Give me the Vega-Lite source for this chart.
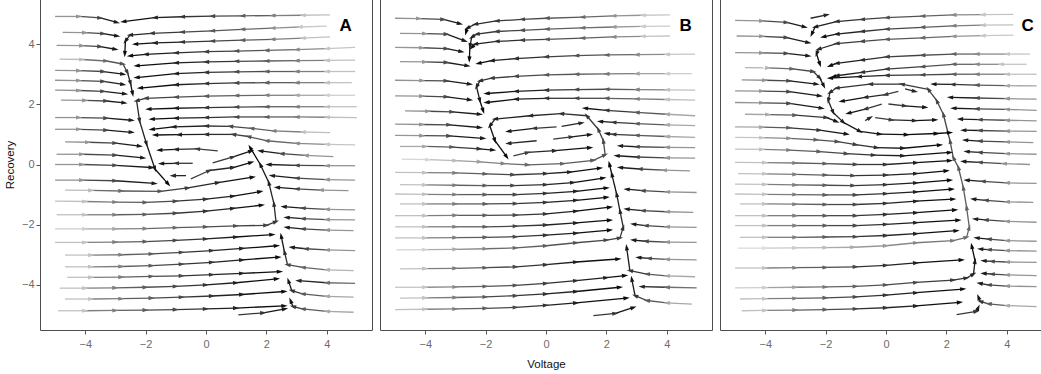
{
"$schema":"https://vega.github.io/schema/vega-lite/v6.json",
"padding":{"left":3,"top":-2,"right":0,"bottom":0},
"spacing":6,
"config":{"view":{"stroke":"#4d4d4d","strokeWidth":1},"font":"Liberation Sans","axis":{"domain":false,"grid":false,"tickColor":"#555555","tickSize":4,"labelColor":"#6b6b6b","labelFontSize":11,"titleFontSize":11.5,"titleFontWeight":"normal","titleColor":"#111111"}},
"datasets":{
"A":[
{"l":1,"x":-5,"y":4.92},{"l":1,"x":-4.2,"y":4.92},{"l":1,"x":-3.5,"y":4.87},{"l":1,"x":-2.95,"y":4.72},
{"l":2,"x":-4.75,"y":4.39},{"l":2,"x":-4,"y":4.38},{"l":2,"x":-3.4,"y":4.35},{"l":2,"x":-2.94,"y":4.27},
{"l":3,"x":-4.95,"y":3.96},{"l":3,"x":-4.1,"y":3.95},{"l":3,"x":-3.5,"y":3.92},{"l":3,"x":-3,"y":3.83},
{"l":4,"x":-4.85,"y":3.5},{"l":4,"x":-4.1,"y":3.49},{"l":4,"x":-3.3,"y":3.44},{"l":4,"x":-2.75,"y":3.34},{"l":4,"x":-2.6,"y":3.05},{"l":4,"x":-2.5,"y":2.7},{"l":4,"x":-2.43,"y":2.35},
{"l":5,"x":-5,"y":3.13},{"l":5,"x":-4.2,"y":3.12},{"l":5,"x":-3.4,"y":3.09},{"l":5,"x":-2.74,"y":3},
{"l":6,"x":-5,"y":2.8},{"l":6,"x":-4.2,"y":2.79},{"l":6,"x":-3.4,"y":2.76},{"l":6,"x":-2.74,"y":2.66},
{"l":7,"x":-5,"y":2.47},{"l":7,"x":-4.2,"y":2.46},{"l":7,"x":-3.4,"y":2.43},{"l":7,"x":-2.68,"y":2.35},
{"l":8,"x":-4.8,"y":2.14},{"l":8,"x":-4,"y":2.13},{"l":8,"x":-3.3,"y":2.11},{"l":8,"x":-2.7,"y":2.05},
{"l":9,"x":-5,"y":1.56},{"l":9,"x":-4.2,"y":1.56},{"l":9,"x":-3.3,"y":1.54},{"l":9,"x":-2.46,"y":1.47},
{"l":10,"x":-5,"y":1.17},{"l":10,"x":-4.2,"y":1.17},{"l":10,"x":-3.3,"y":1.14},{"l":10,"x":-2.46,"y":1.07},
{"l":11,"x":-4.67,"y":0.75},{"l":11,"x":-3.9,"y":0.74},{"l":11,"x":-3,"y":0.71},{"l":11,"x":-2.19,"y":0.61},
{"l":12,"x":-4.95,"y":0.34},{"l":12,"x":-4.1,"y":0.34},{"l":12,"x":-3,"y":0.31},{"l":12,"x":-2.08,"y":0.22},
{"l":13,"x":-5,"y":0},{"l":13,"x":-4.1,"y":0},{"l":13,"x":-3,"y":-0.03},{"l":13,"x":-1.8,"y":-0.1},
{"l":14,"x":-5,"y":-0.52},{"l":14,"x":-4.1,"y":-0.52},{"l":14,"x":-3,"y":-0.54},{"l":14,"x":-1.7,"y":-0.63},
{"l":15,"x":-4.67,"y":-0.85},{"l":15,"x":-3.8,"y":-0.86},{"l":15,"x":-2.8,"y":-0.88},{"l":15,"x":-1.5,"y":-0.89},{"l":15,"x":-0.6,"y":-0.78},{"l":15,"x":0.4,"y":-0.6},{"l":15,"x":1.55,"y":-0.42},
{"l":16,"x":-5,"y":-1.22},{"l":16,"x":-4,"y":-1.23},{"l":16,"x":-3,"y":-1.25},{"l":16,"x":-2,"y":-1.26},{"l":16,"x":-1,"y":-1.22},{"l":16,"x":0,"y":-1.15},{"l":16,"x":0.9,"y":-1.05},{"l":16,"x":1.8,"y":-0.9},
{"l":17,"x":-4.95,"y":-1.67},{"l":17,"x":-4,"y":-1.67},{"l":17,"x":-3,"y":-1.67},{"l":17,"x":-2,"y":-1.66},{"l":17,"x":-1,"y":-1.62},{"l":17,"x":0,"y":-1.55},{"l":17,"x":0.9,"y":-1.46},{"l":17,"x":1.85,"y":-1.35},
{"l":18,"x":-5,"y":-2.14},{"l":18,"x":-4,"y":-2.14},{"l":18,"x":-3,"y":-2.14},{"l":18,"x":-2,"y":-2.13},{"l":18,"x":-1,"y":-2.1},{"l":18,"x":0,"y":-2.07},{"l":18,"x":1,"y":-2.04},{"l":18,"x":2,"y":-2.02},{"l":18,"x":2.32,"y":-1.9},{"l":18,"x":2.25,"y":-1.3},{"l":18,"x":2.08,"y":-0.6},{"l":18,"x":1.8,"y":0},{"l":18,"x":1.46,"y":0.57},
{"l":19,"x":-5,"y":-2.59},{"l":19,"x":-4,"y":-2.59},{"l":19,"x":-3,"y":-2.58},{"l":19,"x":-2,"y":-2.56},{"l":19,"x":-1,"y":-2.52},{"l":19,"x":0,"y":-2.47},{"l":19,"x":1,"y":-2.41},{"l":19,"x":2.2,"y":-2.33},
{"l":20,"x":-4.67,"y":-3.01},{"l":20,"x":-3.8,"y":-3.01},{"l":20,"x":-2.8,"y":-3},{"l":20,"x":-1.8,"y":-2.97},{"l":20,"x":-0.8,"y":-2.92},{"l":20,"x":0.2,"y":-2.86},{"l":20,"x":1.2,"y":-2.79},{"l":20,"x":2.35,"y":-2.7},
{"l":21,"x":-4.67,"y":-3.4},{"l":21,"x":-3.8,"y":-3.4},{"l":21,"x":-2.8,"y":-3.39},{"l":21,"x":-1.8,"y":-3.36},{"l":21,"x":-0.8,"y":-3.31},{"l":21,"x":0.2,"y":-3.25},{"l":21,"x":1.2,"y":-3.17},{"l":21,"x":2.4,"y":-3.08},
{"l":22,"x":-4.6,"y":-3.75},{"l":22,"x":-3.8,"y":-3.75},{"l":22,"x":-2.8,"y":-3.74},{"l":22,"x":-1.8,"y":-3.72},{"l":22,"x":-0.8,"y":-3.7},{"l":22,"x":0.2,"y":-3.66},{"l":22,"x":1.2,"y":-3.62},{"l":22,"x":2.45,"y":-3.56},
{"l":23,"x":-4.85,"y":-4.11},{"l":23,"x":-4,"y":-4.11},{"l":23,"x":-3,"y":-4.1},{"l":23,"x":-2,"y":-4.08},{"l":23,"x":-1,"y":-4.05},{"l":23,"x":0,"y":-4},{"l":23,"x":1,"y":-3.93},{"l":23,"x":2.35,"y":-3.8},
{"l":24,"x":-4.67,"y":-4.47},{"l":24,"x":-3.8,"y":-4.47},{"l":24,"x":-2.8,"y":-4.46},{"l":24,"x":-1.8,"y":-4.44},{"l":24,"x":-0.8,"y":-4.41},{"l":24,"x":0.2,"y":-4.37},{"l":24,"x":1.2,"y":-4.32},{"l":24,"x":2.6,"y":-4.22},
{"l":25,"x":-4.9,"y":-4.86},{"l":25,"x":-4,"y":-4.86},{"l":25,"x":-3,"y":-4.85},{"l":25,"x":-2,"y":-4.84},{"l":25,"x":-1,"y":-4.82},{"l":25,"x":0,"y":-4.8},{"l":25,"x":1,"y":-4.77},{"l":25,"x":2.6,"y":-4.7},
{"l":26,"x":1.07,"y":-5},{"l":26,"x":1.9,"y":-4.93},{"l":26,"x":2.62,"y":-4.8},
{"l":27,"x":0.39,"y":0.45},{"l":27,"x":-0.3,"y":0.52},{"l":27,"x":-1,"y":0.5},{"l":27,"x":-1.55,"y":0.48},
{"l":28,"x":-0.44,"y":0.04},{"l":28,"x":-1,"y":0.04},{"l":28,"x":-1.49,"y":0.03},
{"l":29,"x":-0.66,"y":-0.37},{"l":29,"x":-1.1,"y":-0.37},
{"l":30,"x":-0.5,"y":-0.48},{"l":30,"x":0.11,"y":-0.2},{"l":30,"x":0.9,"y":-0.1},{"l":30,"x":1.5,"y":0.07},
{"l":31,"x":0.22,"y":0.05},{"l":31,"x":0.9,"y":0.25},{"l":31,"x":1.5,"y":0.45},
{"l":32,"x":4.11,"y":4.97},{"l":32,"x":3.2,"y":4.96},{"l":32,"x":2.2,"y":4.95},{"l":32,"x":1.2,"y":4.94},{"l":32,"x":0.2,"y":4.93},{"l":32,"x":-0.8,"y":4.91},{"l":32,"x":-1.7,"y":4.88},{"l":32,"x":-2.74,"y":4.75},
{"l":33,"x":4,"y":4.6},{"l":33,"x":3.1,"y":4.57},{"l":33,"x":2.2,"y":4.53},{"l":33,"x":1.2,"y":4.49},{"l":33,"x":0.2,"y":4.44},{"l":33,"x":-0.8,"y":4.4},{"l":33,"x":-1.8,"y":4.36},{"l":33,"x":-2.52,"y":4.3},{"l":33,"x":-2.67,"y":4.1},{"l":33,"x":-2.69,"y":3.67},
{"l":34,"x":4.11,"y":4.24},{"l":34,"x":3.2,"y":4.2},{"l":34,"x":2.2,"y":4.16},{"l":34,"x":1.2,"y":4.13},{"l":34,"x":0.2,"y":4.1},{"l":34,"x":-0.8,"y":4.07},{"l":34,"x":-1.7,"y":4.04},{"l":34,"x":-2.35,"y":4},
{"l":35,"x":4.94,"y":3.89},{"l":35,"x":4,"y":3.85},{"l":35,"x":3,"y":3.82},{"l":35,"x":2,"y":3.79},{"l":35,"x":1,"y":3.77},{"l":35,"x":0,"y":3.75},{"l":35,"x":-1,"y":3.71},{"l":35,"x":-2,"y":3.66},{"l":35,"x":-2.52,"y":3.61},
{"l":36,"x":4.94,"y":3.47},{"l":36,"x":4,"y":3.46},{"l":36,"x":3,"y":3.45},{"l":36,"x":2,"y":3.44},{"l":36,"x":1,"y":3.43},{"l":36,"x":0,"y":3.41},{"l":36,"x":-1,"y":3.38},{"l":36,"x":-2.3,"y":3.28},
{"l":37,"x":4.94,"y":3.09},{"l":37,"x":4,"y":3.09},{"l":37,"x":3,"y":3.09},{"l":37,"x":2,"y":3.09},{"l":37,"x":1,"y":3.08},{"l":37,"x":0,"y":3.06},{"l":37,"x":-1,"y":3.02},{"l":37,"x":-2.3,"y":2.89},
{"l":38,"x":4.83,"y":2.72},{"l":38,"x":4,"y":2.72},{"l":38,"x":3,"y":2.72},{"l":38,"x":2,"y":2.72},{"l":38,"x":1,"y":2.71},{"l":38,"x":0,"y":2.69},{"l":38,"x":-1,"y":2.65},{"l":38,"x":-2.19,"y":2.54},
{"l":39,"x":4.94,"y":2.3},{"l":39,"x":4,"y":2.3},{"l":39,"x":3,"y":2.3},{"l":39,"x":2,"y":2.3},{"l":39,"x":1,"y":2.29},{"l":39,"x":0,"y":2.27},{"l":39,"x":-1,"y":2.24},{"l":39,"x":-2,"y":2.2},{"l":39,"x":-2.3,"y":2.12},{"l":39,"x":-2.2,"y":1.45},{"l":39,"x":-1.97,"y":0.68},{"l":39,"x":-1.69,"y":-0.15},{"l":39,"x":-1.25,"y":-0.65},
{"l":40,"x":5,"y":1.92},{"l":40,"x":4,"y":1.92},{"l":40,"x":3,"y":1.92},{"l":40,"x":2,"y":1.92},{"l":40,"x":1,"y":1.91},{"l":40,"x":0,"y":1.89},{"l":40,"x":-1,"y":1.87},{"l":40,"x":-1.91,"y":1.84},
{"l":41,"x":5,"y":1.56},{"l":41,"x":4,"y":1.57},{"l":41,"x":3,"y":1.58},{"l":41,"x":2,"y":1.58},{"l":41,"x":1,"y":1.58},{"l":41,"x":0,"y":1.56},{"l":41,"x":-1,"y":1.54},{"l":41,"x":-1.8,"y":1.51},
{"l":42,"x":4.11,"y":1.06},{"l":42,"x":3.2,"y":1.08},{"l":42,"x":2.23,"y":1.12},{"l":42,"x":1.5,"y":1.2},{"l":42,"x":0.8,"y":1.27},{"l":42,"x":0,"y":1.28},{"l":42,"x":-1.08,"y":1.25},{"l":42,"x":-1.8,"y":1.17},
{"l":43,"x":4.94,"y":0.65},{"l":43,"x":4,"y":0.67},{"l":43,"x":3,"y":0.7},{"l":43,"x":2,"y":0.79},{"l":43,"x":1.4,"y":0.93},{"l":43,"x":0.9,"y":1},{"l":43,"x":0,"y":1},{"l":43,"x":-0.9,"y":0.99},{"l":43,"x":-1.69,"y":0.98},
{"l":44,"x":4.22,"y":0.26},{"l":44,"x":3.3,"y":0.3},{"l":44,"x":2.5,"y":0.36},{"l":44,"x":1.8,"y":0.45},
{"l":45,"x":4.94,"y":-0.04},{"l":45,"x":4,"y":-0.04},{"l":45,"x":3,"y":-0.03},{"l":45,"x":2.07,"y":0},
{"l":46,"x":4.94,"y":-0.52},{"l":46,"x":4,"y":-0.5},{"l":46,"x":3,"y":-0.45},{"l":46,"x":2.18,"y":-0.37},
{"l":47,"x":4.72,"y":-0.87},{"l":47,"x":3.8,"y":-0.85},{"l":47,"x":3,"y":-0.81},{"l":47,"x":2.35,"y":-0.76},
{"l":48,"x":4.94,"y":-1.51},{"l":48,"x":4,"y":-1.49},{"l":48,"x":3.2,"y":-1.45},{"l":48,"x":2.57,"y":-1.4},
{"l":49,"x":4.94,"y":-1.84},{"l":49,"x":4,"y":-1.83},{"l":49,"x":3.2,"y":-1.8},{"l":49,"x":2.67,"y":-1.76},
{"l":50,"x":4.89,"y":-2.2},{"l":50,"x":4,"y":-2.18},{"l":50,"x":3.2,"y":-2.14},{"l":50,"x":2.67,"y":-2.09},
{"l":51,"x":4.94,"y":-2.86},{"l":51,"x":4,"y":-2.84},{"l":51,"x":3.3,"y":-2.8},{"l":51,"x":2.84,"y":-2.75},
{"l":52,"x":4.89,"y":-3.53},{"l":52,"x":4,"y":-3.5},{"l":52,"x":3.2,"y":-3.42},{"l":52,"x":2.7,"y":-3.33},{"l":52,"x":2.6,"y":-2.9},{"l":52,"x":2.49,"y":-2.37},
{"l":53,"x":4.94,"y":-3.95},{"l":53,"x":4,"y":-3.93},{"l":53,"x":3.06,"y":-3.86},
{"l":54,"x":4.89,"y":-4.41},{"l":54,"x":4,"y":-4.38},{"l":54,"x":3.2,"y":-4.3},{"l":54,"x":2.84,"y":-4.19},{"l":54,"x":2.73,"y":-3.86},
{"l":55,"x":4.89,"y":-4.91},{"l":55,"x":4,"y":-4.88},{"l":55,"x":3.2,"y":-4.8},{"l":55,"x":2.88,"y":-4.72},{"l":55,"x":2.8,"y":-4.52}
],
"B":[
{"l":1,"x":-5,"y":4.86},{"l":1,"x":-4.2,"y":4.85},{"l":1,"x":-3.4,"y":4.82},{"l":1,"x":-2.85,"y":4.68},
{"l":2,"x":-4.84,"y":4.36},{"l":2,"x":-4,"y":4.35},{"l":2,"x":-3.29,"y":4.33},{"l":2,"x":-2.69,"y":4.11},
{"l":3,"x":-5,"y":3.89},{"l":3,"x":-4.1,"y":3.88},{"l":3,"x":-3.29,"y":3.85},{"l":3,"x":-2.8,"y":3.75},
{"l":4,"x":-4.84,"y":3.42},{"l":4,"x":-4,"y":3.41},{"l":4,"x":-3.29,"y":3.39},{"l":4,"x":-2.6,"y":3.28},
{"l":5,"x":-5,"y":2.8},{"l":5,"x":-4.1,"y":2.79},{"l":5,"x":-3.29,"y":2.78},{"l":5,"x":-2.52,"y":2.67},
{"l":6,"x":-5,"y":2.28},{"l":6,"x":-4.1,"y":2.27},{"l":6,"x":-3.29,"y":2.25},{"l":6,"x":-2.52,"y":2.15},
{"l":7,"x":-4.67,"y":1.78},{"l":7,"x":-3.9,"y":1.77},{"l":7,"x":-3.1,"y":1.75},{"l":7,"x":-2.19,"y":1.67},
{"l":8,"x":-5,"y":1.34},{"l":8,"x":-4.1,"y":1.33},{"l":8,"x":-3.2,"y":1.32},{"l":8,"x":-2.19,"y":1.23},
{"l":9,"x":-5,"y":0.97},{"l":9,"x":-4.1,"y":0.96},{"l":9,"x":-3.2,"y":0.95},{"l":9,"x":-2.08,"y":0.87},
{"l":10,"x":-4.84,"y":0.6},{"l":10,"x":-4,"y":0.6},{"l":10,"x":-3.1,"y":0.58},{"l":10,"x":-2.2,"y":0.52},{"l":10,"x":-1.75,"y":0.48},
{"l":11,"x":-4.78,"y":0.18},{"l":11,"x":-3.9,"y":0.16},{"l":11,"x":-3,"y":0.13},{"l":11,"x":-2.19,"y":0.09},{"l":11,"x":-1.4,"y":0.03},{"l":11,"x":-0.6,"y":-0.01},{"l":11,"x":0.57,"y":0.03},{"l":11,"x":1.57,"y":0.14},{"l":11,"x":1.96,"y":0.32},{"l":11,"x":1.9,"y":0.79},{"l":11,"x":1.73,"y":1.17},{"l":11,"x":1.35,"y":1.62},{"l":11,"x":0.5,"y":1.69},{"l":11,"x":-0.53,"y":1.62},{"l":11,"x":-1.69,"y":1.51},{"l":11,"x":-1.86,"y":1.28},{"l":11,"x":-1.69,"y":0.79},{"l":11,"x":-1.3,"y":0.25},
{"l":12,"x":-5,"y":-0.26},{"l":12,"x":-4,"y":-0.27},{"l":12,"x":-3,"y":-0.28},{"l":12,"x":-2,"y":-0.31},{"l":12,"x":-1.08,"y":-0.34},{"l":12,"x":0,"y":-0.3},{"l":12,"x":0.8,"y":-0.25},{"l":12,"x":1.79,"y":-0.12},
{"l":13,"x":-4.84,"y":-0.67},{"l":13,"x":-4,"y":-0.68},{"l":13,"x":-3,"y":-0.69},{"l":13,"x":-2,"y":-0.7},{"l":13,"x":-1.08,"y":-0.7},{"l":13,"x":0,"y":-0.67},{"l":13,"x":0.9,"y":-0.6},{"l":13,"x":1.9,"y":-0.45},
{"l":14,"x":-5,"y":-0.98},{"l":14,"x":-4,"y":-0.99},{"l":14,"x":-3,"y":-1},{"l":14,"x":-2,"y":-1},{"l":14,"x":-1,"y":-1},{"l":14,"x":0,"y":-0.96},{"l":14,"x":1,"y":-0.89},{"l":14,"x":2.01,"y":-0.78},
{"l":15,"x":-4.84,"y":-1.31},{"l":15,"x":-4,"y":-1.31},{"l":15,"x":-3,"y":-1.31},{"l":15,"x":-2,"y":-1.31},{"l":15,"x":-1,"y":-1.3},{"l":15,"x":0,"y":-1.26},{"l":15,"x":1,"y":-1.19},{"l":15,"x":2.01,"y":-1.09},
{"l":16,"x":-5,"y":-1.7},{"l":16,"x":-4,"y":-1.7},{"l":16,"x":-3,"y":-1.69},{"l":16,"x":-2,"y":-1.69},{"l":16,"x":-1,"y":-1.68},{"l":16,"x":0,"y":-1.64},{"l":16,"x":1,"y":-1.55},{"l":16,"x":2.12,"y":-1.42},
{"l":17,"x":-5,"y":-2.07},{"l":17,"x":-4,"y":-2.07},{"l":17,"x":-3,"y":-2.07},{"l":17,"x":-2,"y":-2.07},{"l":17,"x":-1,"y":-2.05},{"l":17,"x":0,"y":-2.01},{"l":17,"x":1,"y":-1.94},{"l":17,"x":2.12,"y":-1.85},
{"l":18,"x":-5,"y":-2.44},{"l":18,"x":-4,"y":-2.44},{"l":18,"x":-3,"y":-2.43},{"l":18,"x":-2,"y":-2.42},{"l":18,"x":-1,"y":-2.4},{"l":18,"x":0,"y":-2.35},{"l":18,"x":1,"y":-2.28},{"l":18,"x":2.12,"y":-2.18},
{"l":19,"x":-4.95,"y":-2.84},{"l":19,"x":-4,"y":-2.83},{"l":19,"x":-3,"y":-2.82},{"l":19,"x":-2,"y":-2.8},{"l":19,"x":-1,"y":-2.77},{"l":19,"x":0,"y":-2.7},{"l":19,"x":1,"y":-2.6},{"l":19,"x":2.01,"y":-2.51},{"l":19,"x":2.45,"y":-2.44},{"l":19,"x":2.56,"y":-2.09},{"l":19,"x":2.45,"y":-1.54},{"l":19,"x":2.34,"y":-0.98},{"l":19,"x":2.18,"y":-0.32},{"l":19,"x":2.1,"y":0.02},
{"l":20,"x":-4.84,"y":-3.47},{"l":20,"x":-4,"y":-3.46},{"l":20,"x":-3,"y":-3.45},{"l":20,"x":-2,"y":-3.43},{"l":20,"x":-1,"y":-3.4},{"l":20,"x":0,"y":-3.33},{"l":20,"x":1,"y":-3.24},{"l":20,"x":2.4,"y":-3.14},
{"l":21,"x":-5,"y":-4.08},{"l":21,"x":-4,"y":-4.08},{"l":21,"x":-3,"y":-4.07},{"l":21,"x":-2,"y":-4.05},{"l":21,"x":-1,"y":-4.02},{"l":21,"x":0,"y":-3.95},{"l":21,"x":1,"y":-3.86},{"l":21,"x":2,"y":-3.76},{"l":21,"x":2.62,"y":-3.69},
{"l":22,"x":-4.84,"y":-4.44},{"l":22,"x":-4,"y":-4.43},{"l":22,"x":-3,"y":-4.42},{"l":22,"x":-2,"y":-4.4},{"l":22,"x":-1,"y":-4.36},{"l":22,"x":0,"y":-4.3},{"l":22,"x":1,"y":-4.22},{"l":22,"x":2.45,"y":-4.08},
{"l":23,"x":-5,"y":-4.82},{"l":23,"x":-4,"y":-4.81},{"l":23,"x":-3,"y":-4.8},{"l":23,"x":-2,"y":-4.78},{"l":23,"x":-1,"y":-4.75},{"l":23,"x":0,"y":-4.68},{"l":23,"x":1,"y":-4.6},{"l":23,"x":2.67,"y":-4.44},
{"l":24,"x":1.57,"y":-5.02},{"l":24,"x":2.3,"y":-4.95},{"l":24,"x":2.9,"y":-4.75},
{"l":25,"x":0.35,"y":1.25},{"l":25,"x":-0.4,"y":1.2},{"l":25,"x":-1.25,"y":1.1},
{"l":26,"x":0.52,"y":1.27},{"l":26,"x":1.18,"y":1.38},
{"l":27,"x":-0.31,"y":0.79},{"l":27,"x":-1.25,"y":0.7},
{"l":28,"x":0.24,"y":0.84},{"l":28,"x":0.85,"y":0.92},{"l":28,"x":1.46,"y":0.99},
{"l":29,"x":-1.08,"y":0.29},{"l":29,"x":-0.6,"y":0.4},{"l":29,"x":0.3,"y":0.46},{"l":29,"x":1.46,"y":0.56},
{"l":30,"x":4.11,"y":4.97},{"l":30,"x":3.2,"y":4.96},{"l":30,"x":2.23,"y":4.94},{"l":30,"x":1.2,"y":4.9},{"l":30,"x":0.02,"y":4.86},{"l":30,"x":-0.8,"y":4.82},{"l":30,"x":-1.64,"y":4.77},{"l":30,"x":-2.35,"y":4.66},{"l":30,"x":-2.61,"y":4.53},{"l":30,"x":-2.65,"y":4.39},
{"l":31,"x":4.11,"y":4.6},{"l":31,"x":3.2,"y":4.59},{"l":31,"x":2.23,"y":4.57},{"l":31,"x":1.2,"y":4.54},{"l":31,"x":0.02,"y":4.5},{"l":31,"x":-0.8,"y":4.46},{"l":31,"x":-1.64,"y":4.42},{"l":31,"x":-2.3,"y":4.33},{"l":31,"x":-2.46,"y":4.23},{"l":31,"x":-2.52,"y":3.93},{"l":31,"x":-2.54,"y":3.49},
{"l":32,"x":4.11,"y":4.27},{"l":32,"x":3.2,"y":4.26},{"l":32,"x":2.23,"y":4.24},{"l":32,"x":1.2,"y":4.2},{"l":32,"x":0.02,"y":4.16},{"l":32,"x":-0.8,"y":4.13},{"l":32,"x":-1.64,"y":4.09},{"l":32,"x":-2.35,"y":4},{"l":32,"x":-2.46,"y":3.89},
{"l":33,"x":4.94,"y":3.67},{"l":33,"x":4,"y":3.66},{"l":33,"x":3,"y":3.65},{"l":33,"x":2,"y":3.64},{"l":33,"x":1,"y":3.62},{"l":33,"x":0,"y":3.58},{"l":33,"x":-1,"y":3.52},{"l":33,"x":-1.8,"y":3.45},{"l":33,"x":-2.24,"y":3.36},
{"l":34,"x":4.83,"y":3.02},{"l":34,"x":4,"y":3.02},{"l":34,"x":3,"y":3.02},{"l":34,"x":2,"y":3.01},{"l":34,"x":1,"y":3},{"l":34,"x":0,"y":2.98},{"l":34,"x":-1,"y":2.93},{"l":34,"x":-1.8,"y":2.87},{"l":34,"x":-2.19,"y":2.78},{"l":34,"x":-2.3,"y":2.58},{"l":34,"x":-2.19,"y":2.12},{"l":34,"x":-2.08,"y":1.78},
{"l":35,"x":4.94,"y":2.47},{"l":35,"x":4,"y":2.48},{"l":35,"x":3,"y":2.49},{"l":35,"x":2,"y":2.5},{"l":35,"x":1,"y":2.49},{"l":35,"x":0,"y":2.47},{"l":35,"x":-1,"y":2.43},{"l":35,"x":-1.97,"y":2.36},
{"l":36,"x":4.94,"y":2.14},{"l":36,"x":4,"y":2.16},{"l":36,"x":3,"y":2.18},{"l":36,"x":2,"y":2.2},{"l":36,"x":1,"y":2.2},{"l":36,"x":0,"y":2.2},{"l":36,"x":-1,"y":2.17},{"l":36,"x":-1.97,"y":2.06},
{"l":37,"x":4.94,"y":1.62},{"l":37,"x":4,"y":1.67},{"l":37,"x":3,"y":1.73},{"l":37,"x":2,"y":1.8},{"l":37,"x":1.29,"y":1.87},
{"l":38,"x":4.94,"y":1.29},{"l":38,"x":4,"y":1.32},{"l":38,"x":3,"y":1.36},{"l":38,"x":2.23,"y":1.4},{"l":38,"x":1.79,"y":1.43},
{"l":39,"x":4.94,"y":0.9},{"l":39,"x":4,"y":0.93},{"l":39,"x":3,"y":0.97},{"l":39,"x":2.23,"y":1},{"l":39,"x":2.01,"y":1.03},
{"l":40,"x":4.94,"y":0.56},{"l":40,"x":4,"y":0.57},{"l":40,"x":3,"y":0.59},{"l":40,"x":2.45,"y":0.62},
{"l":41,"x":4.94,"y":0.21},{"l":41,"x":4,"y":0.22},{"l":41,"x":3,"y":0.25},{"l":41,"x":2.34,"y":0.29},
{"l":42,"x":4.77,"y":-0.21},{"l":42,"x":3.9,"y":-0.19},{"l":42,"x":3.1,"y":-0.15},{"l":42,"x":2.45,"y":-0.1},
{"l":43,"x":4.99,"y":-0.93},{"l":43,"x":4,"y":-0.91},{"l":43,"x":3.2,"y":-0.87},{"l":43,"x":2.67,"y":-0.82},
{"l":44,"x":4.88,"y":-1.59},{"l":44,"x":4,"y":-1.57},{"l":44,"x":3.2,"y":-1.53},{"l":44,"x":2.67,"y":-1.48},
{"l":45,"x":4.99,"y":-2.09},{"l":45,"x":4,"y":-2.07},{"l":45,"x":3.3,"y":-2.03},{"l":45,"x":2.89,"y":-1.98},
{"l":46,"x":4.99,"y":-2.59},{"l":46,"x":4,"y":-2.58},{"l":46,"x":3.3,"y":-2.55},{"l":46,"x":2.89,"y":-2.51},
{"l":47,"x":4.99,"y":-3.17},{"l":47,"x":4,"y":-3.15},{"l":47,"x":3.4,"y":-3.12},{"l":47,"x":3.06,"y":-3.09},
{"l":48,"x":4.94,"y":-3.73},{"l":48,"x":4,"y":-3.7},{"l":48,"x":3.34,"y":-3.64},{"l":48,"x":2.78,"y":-3.53},{"l":48,"x":2.67,"y":-2.75},
{"l":49,"x":4.99,"y":-4.1},{"l":49,"x":4,"y":-4.08},{"l":49,"x":3.17,"y":-4.06},
{"l":50,"x":4.83,"y":-4.64},{"l":50,"x":4,"y":-4.6},{"l":50,"x":3.34,"y":-4.52},{"l":50,"x":2.95,"y":-4.36},{"l":50,"x":2.84,"y":-3.8}
],
"C":[
{"l":1,"x":-2.5,"y":4.86},{"l":1,"x":-1.96,"y":4.97},
{"l":2,"x":-5,"y":4.79},{"l":2,"x":-4.1,"y":4.77},{"l":2,"x":-3.29,"y":4.72},{"l":2,"x":-2.69,"y":4.57},
{"l":3,"x":-4.95,"y":4.27},{"l":3,"x":-4.1,"y":4.26},{"l":3,"x":-3.29,"y":4.22},{"l":3,"x":-2.57,"y":4.05},
{"l":4,"x":-5,"y":3.72},{"l":4,"x":-4.1,"y":3.71},{"l":4,"x":-3.29,"y":3.69},{"l":4,"x":-2.57,"y":3.61},
{"l":5,"x":-4.67,"y":3.22},{"l":5,"x":-3.9,"y":3.21},{"l":5,"x":-3.1,"y":3.18},{"l":5,"x":-2.41,"y":3.09},{"l":5,"x":-2.19,"y":2.87},{"l":5,"x":-2.06,"y":2.61},
{"l":6,"x":-4.78,"y":2.81},{"l":6,"x":-4,"y":2.8},{"l":6,"x":-3.2,"y":2.78},{"l":6,"x":-2.3,"y":2.67},
{"l":7,"x":-5,"y":2.45},{"l":7,"x":-4.1,"y":2.44},{"l":7,"x":-3.2,"y":2.42},{"l":7,"x":-2.19,"y":2.28},
{"l":8,"x":-5,"y":2.06},{"l":8,"x":-4.1,"y":2.05},{"l":8,"x":-3.2,"y":2.03},{"l":8,"x":-2.13,"y":1.87},
{"l":9,"x":-4.67,"y":1.67},{"l":9,"x":-3.9,"y":1.66},{"l":9,"x":-3,"y":1.64},{"l":9,"x":-1.97,"y":1.56},{"l":9,"x":-1.64,"y":1.43},
{"l":10,"x":-5,"y":1.25},{"l":10,"x":-4.1,"y":1.24},{"l":10,"x":-3.2,"y":1.22},{"l":10,"x":-2.2,"y":1.14},{"l":10,"x":-1.3,"y":1.01},
{"l":11,"x":-5,"y":0.9},{"l":11,"x":-4.1,"y":0.89},{"l":11,"x":-3.2,"y":0.87},{"l":11,"x":-2.3,"y":0.82},{"l":11,"x":-1.6,"y":0.76},{"l":11,"x":-1,"y":0.66},{"l":11,"x":-0.3,"y":0.56},{"l":11,"x":0.57,"y":0.54},{"l":11,"x":1.79,"y":0.65},
{"l":12,"x":-5,"y":0.51},{"l":12,"x":-4.1,"y":0.5},{"l":12,"x":-3.2,"y":0.48},{"l":12,"x":-2.2,"y":0.43},{"l":12,"x":-1.3,"y":0.36},{"l":12,"x":-0.4,"y":0.31},{"l":12,"x":0.57,"y":0.29},{"l":12,"x":2.12,"y":0.4},
{"l":13,"x":-5,"y":0.07},{"l":13,"x":-4,"y":0.06},{"l":13,"x":-3,"y":0.05},{"l":13,"x":-2,"y":0.03},{"l":13,"x":-1,"y":0},{"l":13,"x":0,"y":0},{"l":13,"x":1,"y":0.06},{"l":13,"x":2.12,"y":0.13},
{"l":14,"x":-4.9,"y":-0.3},{"l":14,"x":-4,"y":-0.31},{"l":14,"x":-3,"y":-0.33},{"l":14,"x":-2,"y":-0.35},{"l":14,"x":-1.08,"y":-0.37},{"l":14,"x":0,"y":-0.35},{"l":14,"x":1,"y":-0.3},{"l":14,"x":2.01,"y":-0.21},
{"l":15,"x":-5,"y":-0.65},{"l":15,"x":-4,"y":-0.66},{"l":15,"x":-3,"y":-0.68},{"l":15,"x":-2,"y":-0.69},{"l":15,"x":-1.08,"y":-0.7},{"l":15,"x":0,"y":-0.67},{"l":15,"x":1,"y":-0.61},{"l":15,"x":2.12,"y":-0.52},
{"l":16,"x":-5,"y":-0.98},{"l":16,"x":-4,"y":-0.99},{"l":16,"x":-3,"y":-1},{"l":16,"x":-2,"y":-1.01},{"l":16,"x":-1,"y":-1.01},{"l":16,"x":0,"y":-0.97},{"l":16,"x":1,"y":-0.91},{"l":16,"x":2.18,"y":-0.82},
{"l":17,"x":-4.84,"y":-1.31},{"l":17,"x":-4,"y":-1.31},{"l":17,"x":-3,"y":-1.32},{"l":17,"x":-2,"y":-1.33},{"l":17,"x":-1,"y":-1.33},{"l":17,"x":0,"y":-1.29},{"l":17,"x":1,"y":-1.22},{"l":17,"x":2.23,"y":-1.15},
{"l":18,"x":-5,"y":-1.7},{"l":18,"x":-4,"y":-1.7},{"l":18,"x":-3,"y":-1.7},{"l":18,"x":-2,"y":-1.7},{"l":18,"x":-1,"y":-1.7},{"l":18,"x":0,"y":-1.66},{"l":18,"x":1,"y":-1.6},{"l":18,"x":2.29,"y":-1.51},
{"l":19,"x":-5,"y":-2.03},{"l":19,"x":-4,"y":-2.03},{"l":19,"x":-3,"y":-2.03},{"l":19,"x":-2,"y":-2.03},{"l":19,"x":-1,"y":-2.03},{"l":19,"x":0,"y":-1.99},{"l":19,"x":1,"y":-1.93},{"l":19,"x":2.4,"y":-1.85},
{"l":20,"x":-4.84,"y":-2.42},{"l":20,"x":-4,"y":-2.42},{"l":20,"x":-3,"y":-2.42},{"l":20,"x":-2,"y":-2.41},{"l":20,"x":-1,"y":-2.4},{"l":20,"x":0,"y":-2.36},{"l":20,"x":1,"y":-2.3},{"l":20,"x":2.34,"y":-2.2},
{"l":21,"x":-4.9,"y":-2.78},{"l":21,"x":-4,"y":-2.78},{"l":21,"x":-3,"y":-2.77},{"l":21,"x":-2,"y":-2.76},{"l":21,"x":-1.08,"y":-2.75},{"l":21,"x":0,"y":-2.7},{"l":21,"x":1,"y":-2.6},{"l":21,"x":2.23,"y":-2.53},{"l":21,"x":2.67,"y":-2.42},{"l":21,"x":2.76,"y":-2.09},{"l":21,"x":2.67,"y":-1.42},{"l":21,"x":2.56,"y":-0.76},{"l":21,"x":2.4,"y":-0.1},{"l":21,"x":2.23,"y":0.23},{"l":21,"x":2.12,"y":0.79},{"l":21,"x":1.9,"y":1.67},{"l":21,"x":1.68,"y":2.12},{"l":21,"x":1.4,"y":2.5},
{"l":22,"x":-5,"y":-3.44},{"l":22,"x":-4,"y":-3.44},{"l":22,"x":-3,"y":-3.43},{"l":22,"x":-2,"y":-3.42},{"l":22,"x":-1,"y":-3.4},{"l":22,"x":0,"y":-3.35},{"l":22,"x":1,"y":-3.27},{"l":22,"x":2.51,"y":-3.17},
{"l":23,"x":-5,"y":-4.1},{"l":23,"x":-4,"y":-4.09},{"l":23,"x":-3,"y":-4.08},{"l":23,"x":-2,"y":-4.07},{"l":23,"x":-1,"y":-4.05},{"l":23,"x":0,"y":-4},{"l":23,"x":1,"y":-3.92},{"l":23,"x":2.23,"y":-3.84},{"l":23,"x":2.67,"y":-3.77},{"l":23,"x":2.9,"y":-3.64},{"l":23,"x":2.95,"y":-3.2},{"l":23,"x":2.84,"y":-2.7},
{"l":24,"x":-4.84,"y":-4.47},{"l":24,"x":-4,"y":-4.46},{"l":24,"x":-3,"y":-4.45},{"l":24,"x":-2,"y":-4.43},{"l":24,"x":-1,"y":-4.4},{"l":24,"x":0,"y":-4.34},{"l":24,"x":1,"y":-4.26},{"l":24,"x":2.56,"y":-4.14},
{"l":25,"x":-4.78,"y":-4.86},{"l":25,"x":-4,"y":-4.85},{"l":25,"x":-3,"y":-4.84},{"l":25,"x":-2,"y":-4.82},{"l":25,"x":-1,"y":-4.8},{"l":25,"x":0,"y":-4.76},{"l":25,"x":1,"y":-4.7},{"l":25,"x":2.45,"y":-4.58},
{"l":26,"x":2.34,"y":-4.99},{"l":26,"x":3,"y":-4.88},{"l":26,"x":3.06,"y":-4.75},
{"l":21,"x":0.52,"y":2.67},{"l":21,"x":-0.53,"y":2.67},{"l":21,"x":-1.64,"y":2.54},{"l":21,"x":-1.86,"y":2.39},{"l":21,"x":-1.91,"y":2.12},{"l":21,"x":-1.75,"y":1.73},{"l":21,"x":-1.41,"y":1.4},{"l":21,"x":-0.86,"y":1.1},{"l":21,"x":-0.2,"y":1.01},{"l":21,"x":0.69,"y":0.99},{"l":21,"x":1.68,"y":1.03},{"l":21,"x":2.12,"y":1.06},
{"l":28,"x":0.41,"y":2.43},{"l":28,"x":-0.03,"y":2.32},{"l":28,"x":-0.69,"y":2.23},{"l":28,"x":-1.47,"y":2.1},
{"l":29,"x":-0.14,"y":2.01},{"l":29,"x":-0.69,"y":1.84},{"l":29,"x":-1.25,"y":1.7},
{"l":30,"x":0.08,"y":2.01},{"l":30,"x":0.63,"y":1.95},{"l":30,"x":1.3,"y":1.9},
{"l":31,"x":-0.36,"y":1.56},{"l":31,"x":0.19,"y":1.48},{"l":31,"x":0.96,"y":1.46},{"l":31,"x":1.63,"y":1.48},
{"l":32,"x":-0.69,"y":1.46},{"l":32,"x":-0.52,"y":1.56},
{"l":33,"x":0.63,"y":2.51},{"l":33,"x":0.96,"y":2.43},
{"l":34,"x":4.22,"y":4.99},{"l":34,"x":3.2,"y":4.98},{"l":34,"x":2.23,"y":4.97},{"l":34,"x":1.2,"y":4.93},{"l":34,"x":0.02,"y":4.88},{"l":34,"x":-0.8,"y":4.82},{"l":34,"x":-1.64,"y":4.75},{"l":34,"x":-2.35,"y":4.57},{"l":34,"x":-2.46,"y":4.33},
{"l":35,"x":4.22,"y":4.64},{"l":35,"x":3.2,"y":4.63},{"l":35,"x":2.23,"y":4.61},{"l":35,"x":1.2,"y":4.56},{"l":35,"x":0.02,"y":4.5},{"l":35,"x":-0.8,"y":4.42},{"l":35,"x":-1.64,"y":4.33},{"l":35,"x":-2.08,"y":4.24},
{"l":36,"x":4.22,"y":4.3},{"l":36,"x":3.2,"y":4.28},{"l":36,"x":2.23,"y":4.26},{"l":36,"x":1.2,"y":4.21},{"l":36,"x":0.02,"y":4.16},{"l":36,"x":-0.8,"y":4.09},{"l":36,"x":-1.64,"y":4.02},{"l":36,"x":-2.24,"y":3.83},{"l":36,"x":-2.3,"y":3.67},{"l":36,"x":-2.19,"y":3.33},
{"l":37,"x":4.77,"y":3.67},{"l":37,"x":4,"y":3.67},{"l":37,"x":3,"y":3.67},{"l":37,"x":2.23,"y":3.67},{"l":37,"x":1.2,"y":3.63},{"l":37,"x":0.02,"y":3.58},{"l":37,"x":-0.8,"y":3.47},{"l":37,"x":-1.64,"y":3.36},{"l":37,"x":-1.86,"y":3.28},
{"l":38,"x":4.66,"y":3.33},{"l":38,"x":3.8,"y":3.33},{"l":38,"x":3,"y":3.33},{"l":38,"x":2.23,"y":3.33},{"l":38,"x":1.2,"y":3.25},{"l":38,"x":0.02,"y":3.17},{"l":38,"x":-0.8,"y":3.06},{"l":38,"x":-1.64,"y":2.95},{"l":38,"x":-1.75,"y":2.91},
{"l":39,"x":4.99,"y":3},{"l":39,"x":4,"y":3},{"l":39,"x":3,"y":3},{"l":39,"x":2.23,"y":3},{"l":39,"x":1.2,"y":2.98},{"l":39,"x":0.02,"y":2.96},{"l":39,"x":-0.9,"y":2.92},{"l":39,"x":-1.86,"y":2.87},
{"l":40,"x":4.99,"y":2.61},{"l":40,"x":4,"y":2.62},{"l":40,"x":3,"y":2.64},{"l":40,"x":2.2,"y":2.66},{"l":40,"x":1.57,"y":2.67},
{"l":41,"x":4.99,"y":2.17},{"l":41,"x":4,"y":2.19},{"l":41,"x":3,"y":2.21},{"l":41,"x":2.12,"y":2.23},
{"l":42,"x":4.99,"y":1.8},{"l":42,"x":4,"y":1.83},{"l":42,"x":3,"y":1.85},{"l":42,"x":2.23,"y":1.87},
{"l":43,"x":4.99,"y":1.45},{"l":43,"x":4,"y":1.47},{"l":43,"x":3.1,"y":1.49},{"l":43,"x":2.45,"y":1.51},
{"l":44,"x":4.99,"y":1.1},{"l":44,"x":4,"y":1.11},{"l":44,"x":3.1,"y":1.13},{"l":44,"x":2.56,"y":1.14},
{"l":45,"x":4.88,"y":0.73},{"l":45,"x":4,"y":0.75},{"l":45,"x":3.1,"y":0.78},{"l":45,"x":2.62,"y":0.81},
{"l":46,"x":4.99,"y":0.34},{"l":46,"x":4,"y":0.36},{"l":46,"x":3.1,"y":0.4},{"l":46,"x":2.67,"y":0.43},
{"l":47,"x":4.77,"y":0},{"l":47,"x":3.9,"y":0.03},{"l":47,"x":3.1,"y":0.07},{"l":47,"x":2.56,"y":0.1},
{"l":48,"x":4.99,"y":-0.63},{"l":48,"x":4,"y":-0.61},{"l":48,"x":3.2,"y":-0.56},{"l":48,"x":2.67,"y":-0.52},
{"l":49,"x":4.88,"y":-1.26},{"l":49,"x":4,"y":-1.24},{"l":49,"x":3.3,"y":-1.19},{"l":49,"x":2.89,"y":-1.15},
{"l":50,"x":4.99,"y":-1.92},{"l":50,"x":4,"y":-1.89},{"l":50,"x":3.3,"y":-1.84},{"l":50,"x":2.95,"y":-1.81},
{"l":51,"x":4.99,"y":-2.55},{"l":51,"x":4,"y":-2.53},{"l":51,"x":3.4,"y":-2.48},{"l":51,"x":3,"y":-2.44},
{"l":52,"x":4.99,"y":-2.88},{"l":52,"x":4,"y":-2.86},{"l":52,"x":3.4,"y":-2.83},{"l":52,"x":3.12,"y":-2.81},
{"l":53,"x":4.99,"y":-3.25},{"l":53,"x":4,"y":-3.24},{"l":53,"x":3.5,"y":-3.22},{"l":53,"x":3.23,"y":-3.2},
{"l":54,"x":4.99,"y":-3.69},{"l":54,"x":4,"y":-3.67},{"l":54,"x":3.5,"y":-3.64},{"l":54,"x":3.23,"y":-3.62},
{"l":55,"x":4.99,"y":-4.06},{"l":55,"x":4,"y":-4.04},{"l":55,"x":3.4,"y":-4},{"l":55,"x":3.1,"y":-3.95},
{"l":56,"x":4.99,"y":-4.72},{"l":56,"x":4,"y":-4.69},{"l":56,"x":3.4,"y":-4.63},{"l":56,"x":3.12,"y":-4.55},{"l":56,"x":3.06,"y":-4.4}
]
},
"hconcat":[
{"width":332,"height":331,"data":{"name":"A"},
"transform":[{"window":[{"op":"row_number","as":"i"},{"op":"count","as":"n"},{"op":"first_value","field":"x","as":"x0"},{"op":"lead","field":"x","as":"x2"},{"op":"lead","field":"y","as":"y2"}],"groupby":["l"],"frame":[null,null]},{"filter":"isValid(datum.x2)"},{"calculate":"abs(datum.x0)>3.9 ? (datum.i-0.5)/(datum.n-1) : 0.5+0.5*(datum.i-0.5)/(datum.n-1)","as":"f"},{"calculate":"(360-atan2(datum.y2-datum.y,datum.x2-datum.x)*180/PI)%360","as":"ang"}],
"layer":[
{"mark":{"type":"rule","strokeWidth":1.3},"encoding":{"x":{"field":"x","type":"quantitative","scale":{"domain":[-5.5,5.5],"nice":false,"zero":false},"axis":{"values":[-4,-2,0,2,4],"title":null,"labelPadding":4}},"x2":{"field":"x2"},"y":{"field":"y","type":"quantitative","scale":{"domain":[-5.5,5.5],"nice":false,"zero":false},"axis":{"values":[-4,-2,0,2,4],"title":"Recovery","titlePadding":6,"labelPadding":2}},"y2":{"field":"y2"},"color":{"field":"f","type":"quantitative","scale":{"domain":[0,0.25,1],"range":["#e4e4e4","#6e6e6e","#000000"]},"legend":null}}},
{"mark":{"type":"point","shape":"M-1,-0.65L1,0L-1,0.65Z","filled":true,"size":40,"opacity":1,"strokeWidth":0},"encoding":{"x":{"field":"x2","type":"quantitative"},"y":{"field":"y2","type":"quantitative"},"color":{"field":"f","type":"quantitative","scale":{"domain":[0,0.25,1],"range":["#e4e4e4","#6e6e6e","#000000"]},"legend":null},"angle":{"field":"ang","type":"quantitative","scale":null}}},
{"data":{"values":[{"t":"A"}]},"mark":{"type":"text","fontSize":17,"fontWeight":"bold","baseline":"alphabetic","align":"center","color":"#000000"},"encoding":{"x":{"datum":4.63},"y":{"datum":4.44},"text":{"field":"t"}}}
]},
{"width":332,"height":331,"data":{"name":"B"},
"transform":[{"window":[{"op":"row_number","as":"i"},{"op":"count","as":"n"},{"op":"first_value","field":"x","as":"x0"},{"op":"lead","field":"x","as":"x2"},{"op":"lead","field":"y","as":"y2"}],"groupby":["l"],"frame":[null,null]},{"filter":"isValid(datum.x2)"},{"calculate":"abs(datum.x0)>3.9 ? (datum.i-0.5)/(datum.n-1) : 0.5+0.5*(datum.i-0.5)/(datum.n-1)","as":"f"},{"calculate":"(360-atan2(datum.y2-datum.y,datum.x2-datum.x)*180/PI)%360","as":"ang"}],
"layer":[
{"mark":{"type":"rule","strokeWidth":1.3},"encoding":{"x":{"field":"x","type":"quantitative","scale":{"domain":[-5.5,5.5],"nice":false,"zero":false},"axis":{"values":[-4,-2,0,2,4],"title":"Voltage","titlePadding":9,"labelPadding":4}},"x2":{"field":"x2"},"y":{"field":"y","type":"quantitative","scale":{"domain":[-5.5,5.5],"nice":false,"zero":false},"axis":null},"y2":{"field":"y2"},"color":{"field":"f","type":"quantitative","scale":{"domain":[0,0.25,1],"range":["#e4e4e4","#6e6e6e","#000000"]},"legend":null}}},
{"mark":{"type":"point","shape":"M-1,-0.65L1,0L-1,0.65Z","filled":true,"size":40,"opacity":1,"strokeWidth":0},"encoding":{"x":{"field":"x2","type":"quantitative"},"y":{"field":"y2","type":"quantitative"},"color":{"field":"f","type":"quantitative","scale":{"domain":[0,0.25,1],"range":["#e4e4e4","#6e6e6e","#000000"]},"legend":null},"angle":{"field":"ang","type":"quantitative","scale":null}}},
{"data":{"values":[{"t":"B"}]},"mark":{"type":"text","fontSize":17,"fontWeight":"bold","baseline":"alphabetic","align":"center","color":"#000000"},"encoding":{"x":{"datum":4.63},"y":{"datum":4.44},"text":{"field":"t"}}}
]},
{"width":332,"height":331,"data":{"name":"C"},
"transform":[{"window":[{"op":"row_number","as":"i"},{"op":"count","as":"n"},{"op":"first_value","field":"x","as":"x0"},{"op":"lead","field":"x","as":"x2"},{"op":"lead","field":"y","as":"y2"}],"groupby":["l"],"frame":[null,null]},{"filter":"isValid(datum.x2)"},{"calculate":"abs(datum.x0)>3.9 ? (datum.i-0.5)/(datum.n-1) : 0.5+0.5*(datum.i-0.5)/(datum.n-1)","as":"f"},{"calculate":"(360-atan2(datum.y2-datum.y,datum.x2-datum.x)*180/PI)%360","as":"ang"}],
"layer":[
{"mark":{"type":"rule","strokeWidth":1.3},"encoding":{"x":{"field":"x","type":"quantitative","scale":{"domain":[-5.5,5.5],"nice":false,"zero":false},"axis":{"values":[-4,-2,0,2,4],"title":null,"labelPadding":4}},"x2":{"field":"x2"},"y":{"field":"y","type":"quantitative","scale":{"domain":[-5.5,5.5],"nice":false,"zero":false},"axis":null},"y2":{"field":"y2"},"color":{"field":"f","type":"quantitative","scale":{"domain":[0,0.25,1],"range":["#e4e4e4","#6e6e6e","#000000"]},"legend":null}}},
{"mark":{"type":"point","shape":"M-1,-0.65L1,0L-1,0.65Z","filled":true,"size":40,"opacity":1,"strokeWidth":0},"encoding":{"x":{"field":"x2","type":"quantitative"},"y":{"field":"y2","type":"quantitative"},"color":{"field":"f","type":"quantitative","scale":{"domain":[0,0.25,1],"range":["#e4e4e4","#6e6e6e","#000000"]},"legend":null},"angle":{"field":"ang","type":"quantitative","scale":null}}},
{"data":{"values":[{"t":"C"}]},"mark":{"type":"text","fontSize":17,"fontWeight":"bold","baseline":"alphabetic","align":"center","color":"#000000"},"encoding":{"x":{"datum":4.69},"y":{"datum":4.44},"text":{"field":"t"}}}
]}
]
}
